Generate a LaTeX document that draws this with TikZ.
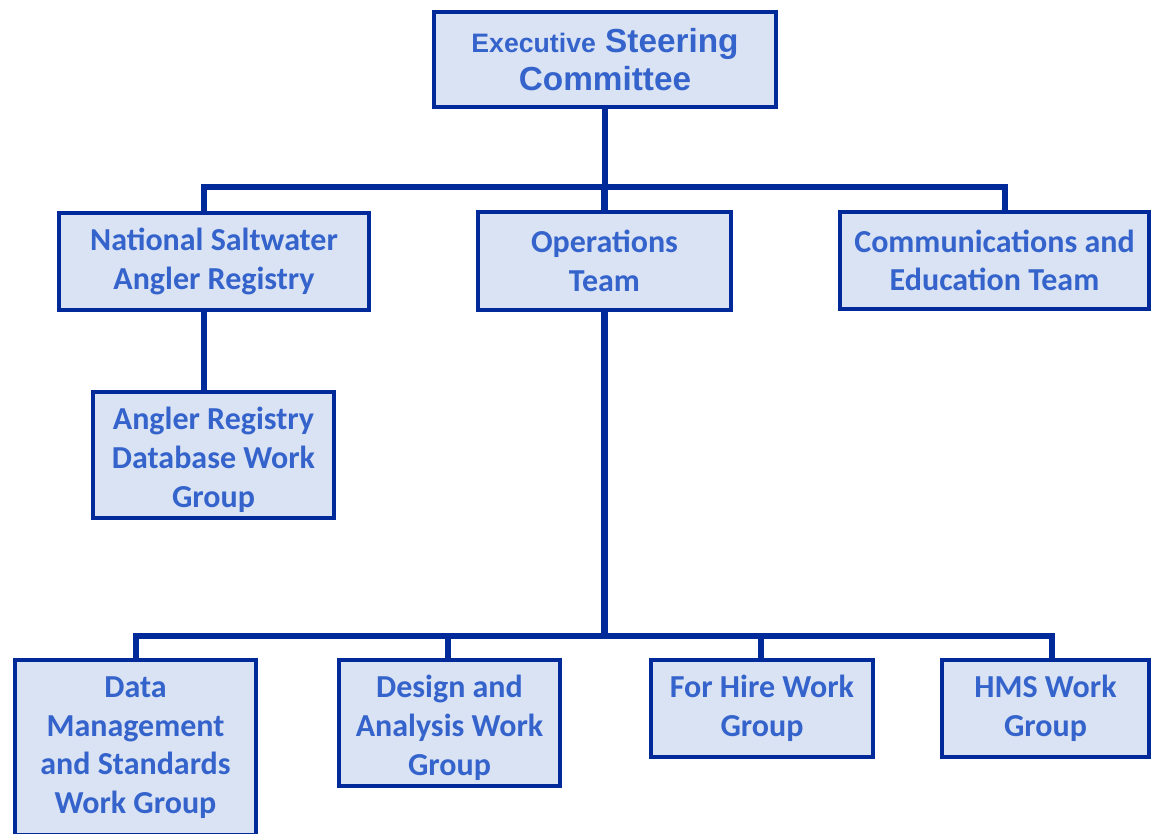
\documentclass[tikz,border=0pt]{standalone}
\usepackage{fontspec}
\setmainfont{Carlito}
\newfontfamily\arialfont{Liberation Sans}
\definecolor{linecol}{HTML}{00299A}
\definecolor{boxfill}{HTML}{DAE3F3}
\definecolor{textcol}{HTML}{3563CC}
\tikzset{
	box/.style={draw=linecol,fill=boxfill,line width=3.2pt,rectangle,inner sep=0pt,
		align=center,text=textcol,font=\fontsize{24}{29}\selectfont\bfseries},
	conn/.style={draw=linecol,line width=4.6pt,line join=miter,line cap=butt}
}
\begin{document}
\begin{tikzpicture}[x=0.75pt,y=-0.75pt]
	\useasboundingbox (0,0) rectangle (1154,833);
	
	% boxes
	\node[box,minimum width=256.5pt,minimum height=71.25pt,
		font=\arialfont\bfseries\fontsize{25}{29}\selectfont] (esc) at (605,59.5)
		{{\fontsize{20}{29}\selectfont Executive} Steering\\Committee};
	\node[box,minimum width=232.5pt,minimum height=72.75pt] (nsar) at (214,261.5)
		{National Saltwater\\Angler Registry};
	\node[box,minimum width=189.75pt,minimum height=73.5pt] (ops) at (604.5,261)
		{Operations\\Team};
	\node[box,minimum width=231.75pt,minimum height=72.75pt] (comm) at (994.5,260.5)
		{Communications and\\Education Team};
	\node[box,minimum width=180.75pt,minimum height=94.5pt] (ardwg) at (213.5,455)
		{\rule{0pt}{24pt}Angler Registry\\Database Work\\Group};
	\node[box,minimum width=180.75pt,minimum height=131.25pt] (dms) at (135.5,747.5)
		{Data\\Management\\and Standards\\Work Group};
	\node[box,minimum width=165.75pt,minimum height=94.5pt] (dna) at (449.5,723)
		{\rule{0pt}{24pt}Design and\\Analysis Work\\Group};
	\node[box,minimum width=166.5pt,minimum height=72.75pt] (forhire) at (762,708.5)
		{For Hire Work\\Group};
	\node[box,minimum width=155.25pt,minimum height=72.75pt] (hms) at (1045.5,708.5)
		{HMS Work\\Group};
	
	% bus lines
	\coordinate (topL) at (204,187);
	\coordinate (topR) at (1005,187);
	\coordinate (botL) at (136,636);
	\coordinate (botA) at (448,636);
	\coordinate (botB) at (761,636);
	\coordinate (botR) at (1052,636);
	
	\draw[conn] (esc.south) -- (esc.south |- topL);
	\draw[conn] (topL |- nsar.north) -- (topL) -- (topR) -- (topR |- comm.north);
	\draw[conn] (ops.north) -- (ops.north |- topL);
	\draw[conn] (topL |- nsar.south) -- (topL |- ardwg.north);
	\draw[conn] (ops.south) -- (ops.south |- botL);
	\draw[conn] (botL |- dms.north) -- (botL) -- (botR) -- (botR |- hms.north);
	\draw[conn] (botA) -- (botA |- dna.north);
	\draw[conn] (botB) -- (botB |- forhire.north);
	
\end{tikzpicture}
\end{document}
